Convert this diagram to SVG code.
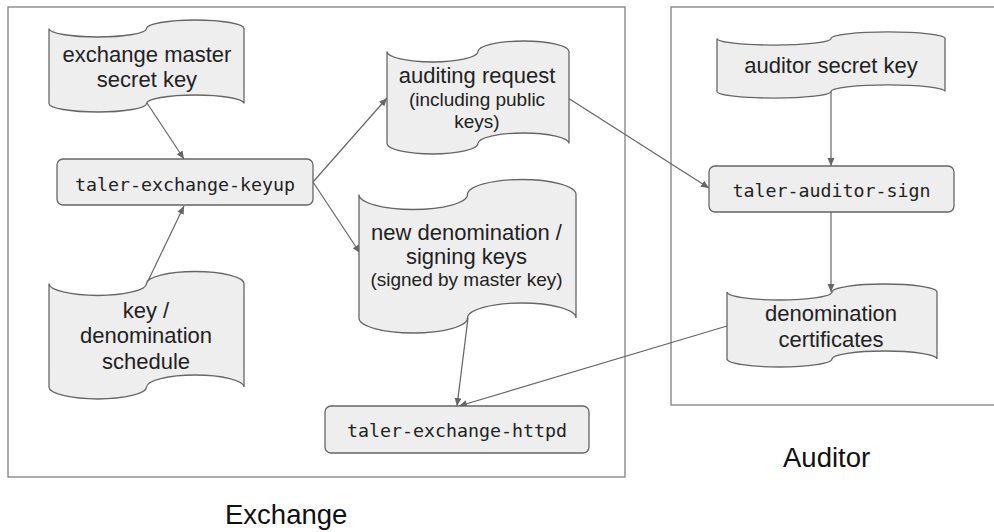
<svg xmlns="http://www.w3.org/2000/svg" width="994" height="532" viewBox="0 0 994 532">
<defs>
<style>
.frame{fill:none;stroke:#808080;stroke-width:1.3}
.doc{fill:#eeeeee;stroke:#666666;stroke-width:1.3}
.box{fill:#eeeeee;stroke:#666666;stroke-width:1.3}
.lbl{font-family:"Liberation Sans",Arial,sans-serif;font-size:22px;fill:#222222;text-anchor:middle}
.sm{font-size:19px}
.mono{font-family:"DejaVu Sans Mono","Liberation Mono",monospace;font-size:18.3px;fill:#222222;text-anchor:middle}
.big{font-family:"Liberation Sans",Arial,sans-serif;font-size:27.5px;fill:#111111}
.conn{fill:none;stroke:#666666;stroke-width:1.2;marker-end:url(#arr)}
</style>
<marker id="arr" markerUnits="userSpaceOnUse" markerWidth="9" markerHeight="8" refX="8" refY="3.5" orient="auto">
<path d="M0,0 L8,3.5 L0,7 Z" fill="#666666"/>
</marker>
</defs>
<rect fill="#ffffff" x="0" y="0" width="994" height="532"/>
<g id="exchange-frame">
<rect class="frame" x="8" y="7" width="617" height="470"/>
<text class="big" x="225" y="524">Exchange</text>
</g>
<g id="auditor-frame">
<rect class="frame" x="671" y="7" width="340" height="398"/>
<text class="big" x="783" y="467">Auditor</text>
</g>
<g id="connectors">
<line class="conn" x1="147" y1="103" x2="184" y2="159"/>
<line class="conn" x1="147" y1="283" x2="184" y2="206"/>
<line class="conn" x1="313" y1="182" x2="387" y2="98"/>
<line class="conn" x1="313" y1="182" x2="360" y2="253"/>
<line class="conn" x1="568" y1="98" x2="709" y2="188"/>
<line class="conn" x1="831" y1="91" x2="831" y2="166"/>
<line class="conn" x1="831" y1="212" x2="831" y2="292"/>
<line class="conn" x1="468" y1="318" x2="457" y2="406"/>
<line class="conn" x1="727" y1="326" x2="459" y2="406"/>
</g>
<g id="exchange-master-secret-key">
<path class="doc" d="M49,28.5 A48.75,8.5 0 0 0 146.5,28.5 A48.75,8.5 0 0 1 244,28.5 L244,103.5 A48.75,8.5 0 0 0 146.5,103.5 A48.75,8.5 0 0 1 49,103.5 Z"/>
<text class="lbl" x="147" y="62">exchange master</text>
<text class="lbl" x="147" y="87">secret key</text>
</g>
<g id="key-denomination-schedule">
<path class="doc" d="M49,283.5 A48.75,12 0 0 0 146.5,283.5 A48.75,12 0 0 1 244,283.5 L244,387 A48.75,12 0 0 0 146.5,387 A48.75,12 0 0 1 49,387 Z"/>
<text class="lbl" x="146" y="318">key /</text>
<text class="lbl" x="146" y="343">denomination</text>
<text class="lbl" x="146" y="369">schedule</text>
</g>
<g id="taler-exchange-keyup">
<rect class="box" x="57" y="159" width="256" height="46" rx="6"/>
<text class="mono" x="185" y="191">taler-exchange-keyup</text>
</g>
<g id="auditing-request">
<path class="doc" d="M387,51.5 A45.5,10.5 0 0 0 478,51.5 A45.5,10.5 0 0 1 569,51.5 L569,143.5 A45.5,10.5 0 0 0 478,143.5 A45.5,10.5 0 0 1 387,143.5 Z"/>
<text class="lbl" x="477" y="83">auditing request</text>
<text class="lbl sm" x="477" y="106">(including public</text>
<text class="lbl sm" x="477" y="128">keys)</text>
</g>
<g id="new-denomination-signing-keys">
<path class="doc" d="M359,194.5 A54.25,15 0 0 0 467.5,194.5 A54.25,15 0 0 1 576,194.5 L576,318 A54.25,15 0 0 0 467.5,318 A54.25,15 0 0 1 359,318 Z"/>
<text class="lbl" x="466.5" y="240">new denomination /</text>
<text class="lbl" x="466.5" y="264">signing keys</text>
<text class="lbl sm" x="466.5" y="286">(signed by master key)</text>
</g>
<g id="taler-exchange-httpd">
<rect class="box" x="325" y="406" width="264" height="47" rx="6"/>
<text class="mono" x="457" y="437">taler-exchange-httpd</text>
</g>
<g id="auditor-secret-key">
<path class="doc" d="M717,38.5 A57,6.6 0 0 0 831,38.5 A57,6.6 0 0 1 945,38.5 L945,91.5 A57,6.6 0 0 0 831,91.5 A57,6.6 0 0 1 717,91.5 Z"/>
<text class="lbl" x="831" y="73">auditor secret key</text>
</g>
<g id="taler-auditor-sign">
<rect class="box" x="709" y="166" width="245" height="46" rx="6"/>
<text class="mono" x="831.5" y="197">taler-auditor-sign</text>
</g>
<g id="denomination-certificates">
<path class="doc" d="M727,292 A52.5,8 0 0 0 832,292 A52.5,8 0 0 1 937,292 L937,359 A52.5,8 0 0 0 832,359 A52.5,8 0 0 1 727,359 Z"/>
<text class="lbl" x="831" y="321">denomination</text>
<text class="lbl" x="831" y="347">certificates</text>
</g>
</svg>
